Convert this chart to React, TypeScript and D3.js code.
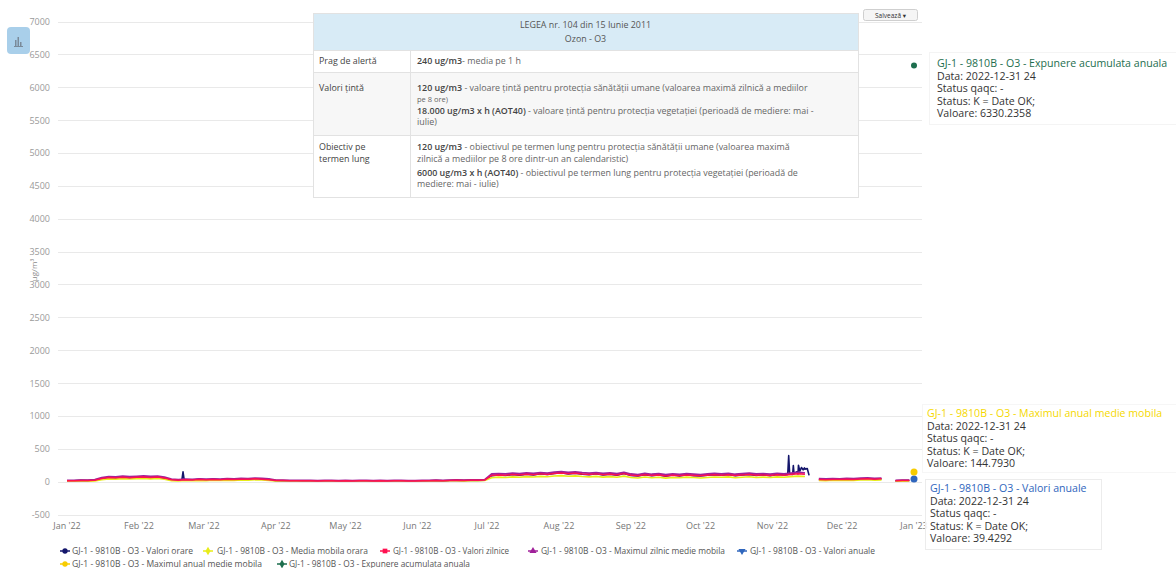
import React from 'react';
import * as d3 from 'd3';

// ---------- DATA ----------
const YEAR_START = Date.UTC(2022, 0, 1);
const YEAR_END = Date.UTC(2023, 0, 1);
const STEP_DAYS = 3; // sampling step of the value arrays (days from Jan 1 2022)

const yTickValues = [-500, 0, 500, 1000, 1500, 2000, 2500, 3000, 3500, 4000, 4500, 5000, 5500, 6000, 6500, 7000];
const monthTickDates = ['2022-01-01', '2022-02-01', '2022-03-01', '2022-04-01', '2022-05-01', '2022-06-01', '2022-07-01', '2022-08-01', '2022-09-01', '2022-10-01', '2022-11-01', '2022-12-01', '2023-01-01'];
const monthTickLabels = ["Jan '22", "Feb '22", "Mar '22", "Apr '22", "May '22", "Jun '22", "Jul '22", "Aug '22", "Sep '22", "Oct '22", "Nov '22", "Dec '22", "Jan '23"];

const seriesNames = [
  'GJ-1 - 9810B - O3 - Valori orare',
  'GJ-1 - 9810B - O3 - Media mobila orara',
  'GJ-1 - 9810B - O3 - Valori zilnice',
  'GJ-1 - 9810B - O3 - Maximul zilnic medie mobila',
  'GJ-1 - 9810B - O3 - Valori anuale',
  'GJ-1 - 9810B - O3 - Maximul anual medie mobila',
  'GJ-1 - 9810B - O3 - Expunere acumulata anuala',
];

// hourly values (sampled every STEP_DAYS days)
const orareValues = [
  14, 12, 19, 15, 24, 44, 60, 52, 70, 55,
  64, 74, 58, 72, 50, 24, 20, 28, 24, 34,
  26, 36, 28, 38, 30, 40, 33, 44, 36, 28,
  16, 14, 13, 14, 11, 13, 10, 12, 11, 9,
  11, 10, 12, 11, 9, 11, 10, 12, 11, 9,
  10, 11, 13, 15, 12, 17, 19, 16, 21, 19,
  22, 92, 100, 94, 110, 98, 114, 102, 120, 108,
  126, 134, 118, 130, 112, 106, 120, 100, 114, 98,
  124, 94, 86, 106, 90, 102, 84, 100, 88, 104,
  92, 86, 98, 106, 96, 108, 90, 102, 110, 94,
  104, 92, 108, 100, 112, 118, 190, null, 30, 28,
  33, 29, 35, 31, 39, 43, 36, 41, null, 12,
  15, 17,
];
// short hourly peaks (day of year, value)
const orareSpikeDays = [49.5, 50, 50.5, 310.6, 311, 311.4, 312.7, 313, 313.3, 314.6, 315.2, 315.8, 316.5, 317.2, 317.8, 319, 319.8];
const orareSpikeValues = [22, 150, 26, 108, 395, 118, 110, 245, 125, 150, 250, 160, 215, 180, 210, 200, 95];

const mediaMobilaOraraValues = [
  7, 6, 9, 8, 11, 30, 42, 38, 46, 40,
  46, 50, 42, 48, 36, 15, 12, 17, 14, 19,
  16, 21, 17, 23, 19, 25, 22, 28, 25, 18,
  12, 10, 9, 10, 8, 9, 7, 9, 8, 7,
  8, 7, 9, 8, 7, 8, 7, 9, 8, 7,
  7, 8, 10, 11, 9, 13, 14, 12, 16, 14,
  17, 60, 68, 64, 72, 66, 76, 70, 80, 74,
  86, 92, 82, 88, 78, 72, 80, 68, 76, 66,
  84, 62, 56, 70, 60, 66, 54, 64, 58, 68,
  62, 56, 64, 70, 66, 72, 60, 66, 74, 64,
  68, 62, 72, 66, 76, 84, 78, null, 18, 16,
  20, 17, 22, 19, 25, 28, 23, 26, null, 7,
  8, 9,
];

const valoriZilniceValues = [
  15, 14, 18, 16, 22, 48, 62, 58, 68, 60,
  66, 72, 64, 70, 55, 28, 22, 30, 26, 32,
  28, 34, 30, 36, 32, 38, 35, 42, 38, 30,
  18, 16, 14, 15, 12, 14, 11, 13, 12, 10,
  12, 11, 13, 12, 10, 12, 11, 13, 12, 10,
  11, 12, 14, 16, 13, 18, 20, 17, 22, 20,
  24, 95, 102, 98, 108, 100, 112, 105, 118, 110,
  125, 132, 120, 128, 115, 108, 118, 104, 112, 100,
  122, 96, 88, 104, 92, 100, 86, 98, 90, 102,
  94, 88, 96, 104, 98, 106, 92, 100, 108, 96,
  102, 94, 106, 98, 110, 120, 112, null, 32, 30,
  34, 31, 36, 33, 40, 44, 38, 42, null, 14,
  16, 18,
];

const maximZilnicMedieMobilaValues = [
  20, 19, 23, 21, 29, 60, 76, 72, 82, 74,
  80, 87, 78, 85, 67, 38, 30, 39, 34, 41,
  36, 43, 38, 46, 41, 48, 44, 52, 48, 40,
  24, 21, 19, 20, 17, 19, 16, 18, 17, 15,
  17, 16, 18, 17, 15, 17, 16, 18, 17, 15,
  16, 17, 19, 21, 18, 23, 25, 22, 28, 26,
  30, 116, 122, 118, 128, 120, 134, 126, 138, 130,
  146, 152, 140, 148, 136, 128, 138, 124, 132, 120,
  142, 116, 108, 124, 112, 120, 106, 118, 110, 122,
  114, 108, 116, 124, 118, 126, 112, 120, 128, 116,
  122, 114, 126, 118, 130, 140, 132, null, 44, 42,
  46, 43, 48, 45, 52, 56, 50, 54, null, 20,
  22, 24,
];

const annualDate = '2022-12-31 24';
const valoriAnualeValue = 39.4292;
const maximAnualMedieMobilaValue = 144.793;
const expunereAcumulataValue = 6330.2358;

// ---------- STYLE ----------
const colors = ['#14166b', '#e8ec1a', '#ff1050', '#a0209a', '#2f66bd', '#f7cc00', '#1d6e4e'];
const FONT = "'Open Sans', 'DejaVu Sans', sans-serif";

type Pt = { day: number; v: number | null };

const dayToDate = (day: number) => new Date(YEAR_START + Math.round(day * 24) * 3600 * 1000);

function sampled(values: (number | null)[]): Pt[] {
  return values.map((v, i) => ({ day: i * STEP_DAYS, v }));
}

const orarePoints: Pt[] = [...sampled(orareValues), ...orareSpikeDays.map((d, i) => ({ day: d, v: orareSpikeValues[i] }))].sort(
  (a, b) => a.day - b.day
);

export default function App() {
  const W = 1176;
  const H = 568;
  const plotLeft = 58;
  const plotRight = 922;

  const x = d3.scaleUtc().domain([new Date(YEAR_START), new Date(YEAR_END)]).range([67, 914]);
  const y = d3.scaleLinear().domain([-500, 7000]).range([514.5, 21.5]);

  const line = d3
    .line<Pt>()
    .defined((d) => d.v != null)
    .x((d) => x(dayToDate(d.day)))
    .y((d) => y(d.v as number));

  // drawing order: hourly, moving average, daily max moving avg, daily values on top
  const lineSeries: { pts: Pt[]; color: string; w: number }[] = [
    { pts: orarePoints, color: colors[0], w: 1.6 },
    { pts: sampled(mediaMobilaOraraValues), color: colors[1], w: 1.6 },
    { pts: sampled(maximZilnicMedieMobilaValues), color: colors[3], w: 1.8 },
    { pts: sampled(valoriZilniceValues), color: colors[2], w: 1.5 },
  ];

  const endX = x(new Date(YEAR_END));

  const symbolTypes = [d3.symbolCircle, d3.symbolDiamond, d3.symbolSquare, d3.symbolTriangle, d3.symbolTriangle, d3.symbolCircle, d3.symbolDiamond];
  const legendPos = [
    { mx: 65, tx: 72, ty: 554, len: 121 },
    { mx: 208, tx: 217, ty: 554, len: 151 },
    { mx: 385, tx: 393, ty: 554, len: 116 },
    { mx: 533, tx: 541, ty: 554, len: 184 },
    { mx: 742, tx: 750, ty: 554, len: 125 },
    { mx: 65, tx: 72, ty: 567, len: 190 },
    { mx: 282, tx: 289, ty: 567, len: 181 },
  ];

  const tipLines = (val: string) => [`Data: ${annualDate}`, 'Status qaqc: -', 'Status: K = Date OK;', `Valoare: ${val}`];

  const tooltips = [
    { x: 937, y: 67, color: colors[6], title: seriesNames[6], val: expunereAcumulataValue.toFixed(4), box: [929, 52, 247, 72], stroke: '#f4f4f4' },
    { x: 927, y: 417, color: '#f5d800', title: seriesNames[5], val: maximAnualMedieMobilaValue.toFixed(4), box: [922, 404, 254, 68], stroke: '#f6f6f6' },
    { x: 930, y: 492, color: colors[4], title: seriesNames[4], val: valoriAnualeValue.toFixed(4), box: [925, 479, 176, 70], stroke: '#ececec' },
  ];

  const tableText = '#666';
  const tableBold = '#444';
  const fs = 8.9;

  return (
    <svg width={W} height={H} style={{ position: 'absolute', left: 0, top: 0, background: '#fff' }} fontFamily={FONT}>
      <rect width={W} height={H} fill="#fff" />
      {/* grid + y labels */}
      {yTickValues.map((t) => (
        <g key={t}>
          <line x1={plotLeft} x2={plotRight} y1={Math.round(y(t)) + 0.5} y2={Math.round(y(t)) + 0.5} stroke="#e9e9e9" strokeWidth={1} />
          <text x={50} y={y(t) + 3.5} textAnchor="end" fontSize={9} fill="#9a9a9a">
            {t}
          </text>
        </g>
      ))}
      <text transform="translate(37,270) rotate(-90)" textAnchor="middle" fontSize={8} fill="#888">
        µg/m³
      </text>
      {/* x labels */}
      {monthTickDates.map((d, i) => (
        <text key={d} x={x(new Date(d + 'T00:00:00Z'))} y={529} textAnchor="middle" fontSize={9} fill="#777">
          {monthTickLabels[i]}
        </text>
      ))}
      {/* series lines */}
      {lineSeries.map((s, i) => (
        <path key={i} d={line(s.pts) || ''} fill="none" stroke={s.color} strokeWidth={s.w} strokeLinejoin="round" />
      ))}
      {/* annual points */}
      <circle cx={endX} cy={y(valoriAnualeValue)} r={3.5} fill={colors[4]} />
      <circle cx={endX} cy={y(maximAnualMedieMobilaValue)} r={3.5} fill={colors[5]} />
      <circle cx={endX} cy={y(expunereAcumulataValue)} r={3} fill={colors[6]} />

      {/* legislation table */}
      <g fontSize={fs}>
        <rect x={313.5} y={13.5} width={545} height={184} fill="#fff" stroke="#e2e2e2" />
        <rect x={314} y={14} width={544} height={36} fill="#d8ebf6" />
        <text x={585.5} y={28} textAnchor="middle" fill="#555">LEGEA nr. 104 din 15 Iunie 2011</text>
        <text x={585.5} y={42} textAnchor="middle" fill="#555">Ozon - O3</text>
        <rect x={314} y={72} width={544} height={63} fill="#f7f7f7" />
        <line x1={313.5} x2={858.5} y1={50.5} y2={50.5} stroke="#e2e2e2" />
        <line x1={313.5} x2={858.5} y1={72.5} y2={72.5} stroke="#e2e2e2" />
        <line x1={313.5} x2={858.5} y1={135.5} y2={135.5} stroke="#e2e2e2" />
        <line x1={410.5} x2={410.5} y1={50.5} y2={197.5} stroke="#e2e2e2" />
        <text x={319} y={64} fill={tableBold}>Prag de alertă</text>
        <text x={417} y={64} fill={tableText}>
          <tspan fontWeight={600} fill={tableBold}>240 ug/m3</tspan>- media pe 1 h
        </text>
        <text x={319} y={91} fill={tableBold}>Valori țintă</text>
        <text x={417} y={91} fill={tableText}>
          <tspan fontWeight={600} fill={tableBold}>120 ug/m3</tspan> - valoare țintă pentru protecția sănătății umane (valoarea maximă zilnică a mediilor
        </text>
        <text x={417} y={102} fill={tableText} fontSize={7.5}>pe 8 ore)</text>
        <text x={417} y={114} fill={tableText}>
          <tspan fontWeight={600} fill={tableBold}>18.000 ug/m3 x h (AOT40)</tspan> - valoare țintă pentru protecția vegetației (perioadă de mediere: mai -
        </text>
        <text x={417} y={125} fill={tableText}>iulie)</text>
        <text x={319} y={150} fill={tableBold}>Obiectiv pe</text>
        <text x={319} y={162} fill={tableBold}>termen lung</text>
        <text x={417} y={150} fill={tableText}>
          <tspan fontWeight={600} fill={tableBold}>120 ug/m3</tspan> - obiectivul pe termen lung pentru protecția sănătății umane (valoarea maximă
        </text>
        <text x={417} y={162} fill={tableText}>zilnică a mediilor pe 8 ore dintr-un an calendaristic)</text>
        <text x={417} y={176} fill={tableText}>
          <tspan fontWeight={600} fill={tableBold}>6000 ug/m3 x h (AOT40)</tspan> - obiectivul pe termen lung pentru protecția vegetației (perioadă de
        </text>
        <text x={417} y={187} fill={tableText}>mediere: mai - iulie)</text>
      </g>

      {/* export button */}
      <rect x={863.5} y={9.5} width={54} height={11} rx={2} fill="#f5f5f5" stroke="#cfcfcf" />
      <text x={890.5} y={17.5} textAnchor="middle" fontSize={6.5} fill="#333">Salvează ▾</text>
      {/* chart-type button */}
      <rect x={7} y={27} width={23} height={27} rx={4} fill="#a9cfea" />
      <g fill="#7a8a99">
        <rect x={15} y={40} width={1.5} height={6} />
        <rect x={17.5} y={37} width={1.5} height={9} />
        <rect x={20} y={42} width={1.5} height={4} />
        <rect x={14} y={46} width={9} height={1} />
      </g>

      {/* tooltips */}
      {tooltips.map((t, i) => (
        <g key={i} fontSize={10.6}>
          <rect x={t.box[0] + 0.5} y={t.box[1] + 0.5} width={t.box[2]} height={t.box[3]} fill="#fff" fillOpacity={0.85} stroke={t.stroke} />
          <text x={t.x} y={t.y} fill={t.color}>{t.title}</text>
          {tipLines(t.val).map((l, j) => (
            <text key={j} x={t.x} y={t.y + 12.5 * (j + 1)} fill="#333">
              {l}
            </text>
          ))}
        </g>
      ))}

      {/* legend */}
      {seriesNames.map((n, i) => {
        const p = legendPos[i];
        const rot = i === 4 ? 180 : 0;
        return (
          <g key={n}>
            <line x1={p.mx - 5} x2={p.mx + 5} y1={p.ty - 3} y2={p.ty - 3} stroke={colors[i]} strokeWidth={1.5} />
            <path
              d={d3.symbol().type(symbolTypes[i]).size(22)() || ''}
              transform={`translate(${p.mx},${p.ty - 3}) rotate(${rot})`}
              fill={colors[i]}
            />
            <text x={p.tx} y={p.ty} fontSize={8.5} fill="#555" textLength={p.len} lengthAdjust="spacingAndGlyphs">
              {n}
            </text>
          </g>
        );
      })}
    </svg>
  );
}
